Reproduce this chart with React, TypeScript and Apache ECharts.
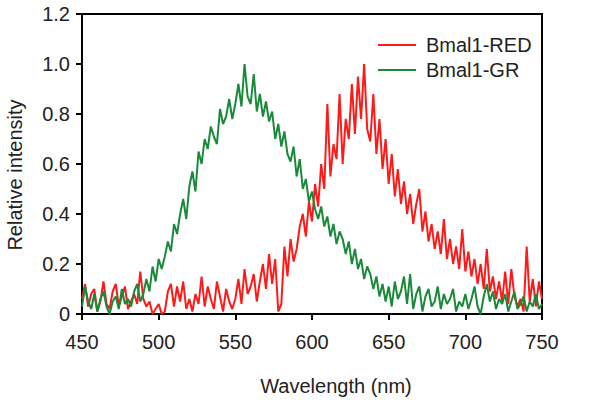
import React, { useEffect, useRef } from "react";
import * as echarts from "echarts";

// Wavelength grid: 450..750 nm in 2 nm steps
const WL_START = 450;
const WL_STEP = 2;

const redValues = [
  0.06, 0.12, 0.03, 0.08, 0.10, 0.01, 0.05, 0.13, 0.04, 0.02,
  0.09, 0.12, 0.03, 0.07, 0.11, 0.02, 0.05, 0.08, 0.04, 0.17,
  0.06, 0.03, 0.05, 0.00, 0.02, 0.04, 0.00, 0.01, 0.09, 0.12,
  0.03, 0.11, 0.05, 0.13, 0.02, 0.06, 0.01, 0.08, 0.04, 0.15,
  0.03, 0.11, 0.06, 0.02, 0.13, 0.07, 0.01, 0.10, 0.05, 0.02,
  0.06, 0.14, 0.04, 0.18, 0.08, 0.11, 0.16, 0.05, 0.13, 0.20,
  0.10, 0.24, 0.12, 0.22, 0.01, 0.04, 0.27, 0.15, 0.30, 0.21,
  0.26, 0.35, 0.40, 0.31, 0.45, 0.37, 0.52, 0.43, 0.60, 0.50,
  0.84, 0.55, 0.68, 0.62, 0.88, 0.60, 0.78, 0.70, 0.92, 0.72,
  0.95, 0.78, 1.00, 0.74, 0.69, 0.88, 0.64, 0.78, 0.58, 0.70,
  0.52, 0.64, 0.47, 0.58, 0.44, 0.53, 0.40, 0.48, 0.36, 0.44,
  0.50, 0.33, 0.41, 0.29, 0.36, 0.26, 0.33, 0.24, 0.38, 0.22,
  0.30, 0.20, 0.27, 0.18, 0.34, 0.17, 0.25, 0.15, 0.22, 0.12,
  0.20, 0.10, 0.26, 0.09, 0.15, 0.06, 0.13, 0.05, 0.17, 0.04,
  0.18, 0.07, 0.03, 0.06, 0.01, 0.27, 0.05, 0.14, 0.03, 0.13,
  0.06,
];

const greenValues = [
  0.03, 0.11, 0.05, 0.02, 0.08, 0.01, 0.06, 0.09, 0.03, 0.00,
  0.05, 0.07, 0.02, 0.10, 0.04, 0.06, 0.03, 0.09, 0.12, 0.05,
  0.08, 0.14, 0.09, 0.19, 0.13, 0.22, 0.18, 0.23, 0.29, 0.25,
  0.36, 0.32, 0.40, 0.46, 0.38, 0.51, 0.57, 0.49, 0.65, 0.60,
  0.70, 0.66, 0.75, 0.71, 0.68, 0.82, 0.76, 0.79, 0.86, 0.78,
  0.84, 0.92, 0.83, 1.00, 0.87, 0.84, 0.96, 0.81, 0.88, 0.79,
  0.85, 0.77, 0.81, 0.70, 0.76, 0.67, 0.73, 0.64, 0.61, 0.67,
  0.55, 0.62, 0.50, 0.54, 0.45, 0.49, 0.42, 0.38, 0.43, 0.35,
  0.39, 0.31, 0.36, 0.28, 0.33, 0.30, 0.24, 0.29, 0.20, 0.26,
  0.18, 0.22, 0.14, 0.19, 0.16, 0.10, 0.15, 0.07, 0.12, 0.05,
  0.11, 0.03, 0.13, 0.06, 0.09, 0.15, 0.04, 0.16, 0.02, 0.08,
  0.11, 0.01, 0.07, 0.10, 0.03, 0.05, 0.11, 0.02, 0.08, 0.04,
  0.06, 0.10, 0.01, 0.05, 0.03, 0.08, 0.02, 0.06, 0.11, 0.03,
  0.00, 0.07, 0.12, 0.05, 0.09, 0.02, 0.06, 0.04, 0.08, 0.01,
  0.05, 0.09, 0.02, 0.04, 0.07, 0.01, 0.05, 0.03, 0.08, 0.02,
  0.04,
];

const xTicks = { min: 450, max: 750, interval: 50 };
const yTicks = { min: 0, max: 1.2, interval: 0.2 };
const seriesNames = ["Bmal1-RED", "Bmal1-GR"];
const xTitle = "Wavelength (nm)";
const yTitle = "Relative intensity";

const toPairs = (vals: number[]) => vals.map((v, i) => [WL_START + i * WL_STEP, v]);

export default function App() {
  const ref = useRef<HTMLDivElement>(null);
  useEffect(() => {
    if (!ref.current) return;
    const chart = echarts.init(ref.current, null, { renderer: "svg" });
    const font = "Liberation Sans, Arial, sans-serif";
    chart.setOption({
      animation: false,
      backgroundColor: "#ffffff",
      grid: {
        left: 82,
        right: 58,
        top: 14,
        bottom: 92,
        show: true,
        borderColor: "#000",
        borderWidth: 2,
        backgroundColor: "transparent",
      },
      legend: {
        data: seriesNames,
        orient: "vertical",
        left: 373,
        top: 30,
        itemWidth: 38,
        itemHeight: 2,
        itemGap: 5,
        icon: "rect",
        textStyle: { fontFamily: font, fontSize: 20, color: "#222", padding: [0, 0, 0, 5] },
      },
      xAxis: {
        type: "value",
        min: xTicks.min,
        max: xTicks.max,
        interval: xTicks.interval,
        splitLine: { show: false },
        axisLine: { lineStyle: { color: "#000", width: 2 } },
        axisTick: { show: true, length: 6, lineStyle: { color: "#000", width: 2 } },
        axisLabel: { fontFamily: font, fontSize: 20, color: "#222", margin: 18 },
      },
      yAxis: {
        type: "value",
        min: yTicks.min,
        max: yTicks.max,
        interval: yTicks.interval,
        splitLine: { show: false },
        axisLine: { show: true, lineStyle: { color: "#000", width: 2 } },
        axisTick: { show: true, length: 6, lineStyle: { color: "#000", width: 2 } },
        axisLabel: {
          fontFamily: font,
          fontSize: 20,
          color: "#222",
          margin: 12,
          formatter: (v: number) => (v === 0 ? "0" : v.toFixed(1)),
        },
      },
      graphic: [
        {
          type: "text",
          x: 336,
          y: 386,
          style: {
            text: xTitle,
            fontFamily: font,
            fontSize: 20,
            fill: "#222",
            textAlign: "center",
            textVerticalAlign: "middle",
          },
        },
        {
          type: "text",
          x: 15,
          y: 175,
          rotation: Math.PI / 2,
          style: {
            text: yTitle,
            fontFamily: font,
            fontSize: 20,
            fill: "#222",
            textAlign: "center",
            textVerticalAlign: "middle",
          },
        },
      ],
      series: [
        {
          name: seriesNames[0],
          type: "line",
          data: toPairs(redValues),
          showSymbol: false,
          symbol: "none",
          color: "#ff1a1a",
          lineStyle: { color: "#ff1a1a", width: 2 },
          z: 2,
        },
        {
          name: seriesNames[1],
          type: "line",
          data: toPairs(greenValues),
          showSymbol: false,
          symbol: "none",
          color: "#1a8a3a",
          lineStyle: { color: "#1a8a3a", width: 2 },
          z: 3,
        },
      ],
    });
    return () => chart.dispose();
  }, []);
  return (
    <div
      ref={ref}
      style={{ position: "fixed", left: 0, top: 0, width: 600, height: 406 }}
    />
  );
}
